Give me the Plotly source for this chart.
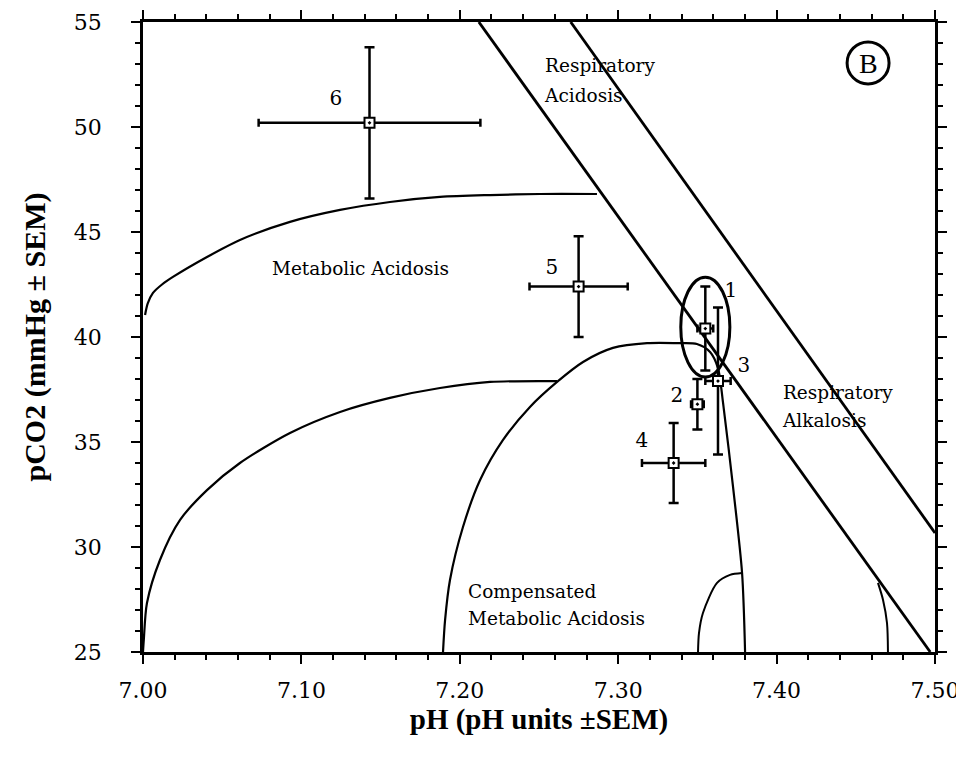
import plotly.graph_objects as go

# ---- data ----
point_labels = ["1", "2", "3", "4", "5", "6"]
ph = [7.355, 7.350, 7.363, 7.335, 7.275, 7.143]
ph_sem = [0.005, 0.004, 0.008, 0.020, 0.031, 0.070]
pco2 = [40.4, 36.8, 37.9, 34.0, 42.4, 50.2]
pco2_sem = [2.0, 1.2, 3.5, 1.9, 2.4, 3.6]
label_x = [7.3712, 7.3371, 7.3794, 7.3150, 7.2582, 7.1218]
label_y = [42.14, 37.14, 38.57, 35.0, 43.24, 51.29]

# boundary lines
line_a_x = [7.212, 7.497]
line_a_y = [55.0, 25.0]
line_b_x = [7.270, 7.500]
line_b_y = [55.0, 30.67]

# upper metabolic acidosis curve
curve1_x = [7.0013, 7.0030, 7.0063, 7.0120, 7.0189, 7.0404, 7.0612, 7.0928, 7.1244, 7.1559, 7.1875, 7.2191, 7.2506, 7.2866]
curve1_y = [41.05, 41.60, 42.10, 42.50, 42.86, 43.81, 44.62, 45.48, 46.05, 46.43, 46.67, 46.76, 46.81, 46.81]
# lower metabolic acidosis curve
curve2_x = [7.000, 7.0005, 7.0025, 7.0107, 7.0234, 7.0404, 7.0612, 7.0928, 7.1244, 7.1559, 7.1875, 7.2191, 7.2614]
curve2_y = [25.0, 25.57, 27.33, 29.38, 31.29, 32.71, 34.0, 35.43, 36.43, 37.10, 37.57, 37.86, 37.90]
# compensated metabolic acidosis boundary
curve3_x = [7.1894, 7.1907, 7.1938, 7.2020, 7.2128, 7.2273, 7.2443, 7.2614, 7.2778, 7.2967, 7.3182, 7.3390, 7.3497, 7.3580, 7.3630, 7.3662, 7.3725, 7.3782, 7.3801]
curve3_y = [25.0, 26.52, 28.43, 30.95, 33.19, 35.10, 36.67, 37.86, 38.81, 39.48, 39.71, 39.71, 39.67, 39.29, 38.52, 36.86, 32.86, 28.76, 25.0]
# small inner arc
curve4_x = [7.3504, 7.3510, 7.3535, 7.3624, 7.3706, 7.3782]
curve4_y = [25.0, 25.9, 26.86, 28.29, 28.67, 28.76]
# small right arc
curve5_x = [7.4640, 7.4672, 7.4697, 7.4703]
curve5_y = [28.29, 27.48, 26.38, 25.0]

# ellipse around point 1
ellipse_x = [7.3395, 7.3705]
ellipse_y = [38.1, 42.85]

region_text = ["Respiratory", "Acidosis", "Metabolic Acidosis", "Respiratory", "Alkalosis",
               "Compensated", "Metabolic Acidosis"]
region_x = [7.2538, 7.2538, 7.0814, 7.4040, 7.4040, 7.2052, 7.2052]
region_y = [52.86, 51.43, 43.19, 37.29, 35.95, 27.81, 26.52]

x_ticks = [7.00, 7.10, 7.20, 7.30, 7.40, 7.50]
x_tick_text = ["7.00", "7.10", "7.20", "7.30", "7.40", "7.50"]
y_ticks = [25, 30, 35, 40, 45, 50, 55]

serif = "Liberation Serif, Times New Roman, serif"
wide_serif = "DejaVu Serif, serif"

fig = go.Figure()

for cx, cy, w in [(line_a_x, line_a_y, 2.8), (line_b_x, line_b_y, 2.8),
                  (curve1_x, curve1_y, 2.2), (curve2_x, curve2_y, 2.2),
                  (curve3_x, curve3_y, 2.2), (curve4_x, curve4_y, 2.0),
                  (curve5_x, curve5_y, 2.0)]:
    fig.add_trace(go.Scatter(x=cx, y=cy, mode="lines",
                             line=dict(color="black", width=w, shape="spline", smoothing=0.8),
                             hoverinfo="skip", showlegend=False))

fig.add_trace(go.Scatter(
    x=ph, y=pco2, mode="markers",
    error_x=dict(type="data", array=ph_sem, color="black", thickness=2.5, width=4),
    error_y=dict(type="data", array=pco2_sem, color="black", thickness=2.5, width=5),
    marker=dict(symbol="square-dot", size=10, color="white",
                line=dict(color="black", width=2)),
    showlegend=False))

fig.add_trace(go.Scatter(
    x=label_x, y=label_y, mode="text", text=point_labels,
    textfont=dict(family=wide_serif, size=20, color="black"),
    hoverinfo="skip", showlegend=False))

fig.add_trace(go.Scatter(
    x=region_x, y=region_y, mode="text", text=region_text, textposition="middle right",
    textfont=dict(family=wide_serif, size=18.5, color="black"),
    hoverinfo="skip", showlegend=False))

fig.add_shape(type="circle", xref="x", yref="y",
              x0=ellipse_x[0], x1=ellipse_x[1], y0=ellipse_y[0], y1=ellipse_y[1],
              line=dict(color="black", width=3))

# B label in circle
fig.add_shape(type="circle", xref="x", yref="y",
              x0=7.4445, x1=7.4710, y0=52.05, y1=54.05,
              line=dict(color="black", width=3))
fig.add_annotation(x=7.4578, y=53.03, text="B", showarrow=False,
                   font=dict(family=serif, size=28, color="black"))

axis_common = dict(
    showline=True, linecolor="black", linewidth=2.5, mirror="allticks",
    ticks="outside", ticklen=9, tickwidth=2, tickcolor="black",
    showgrid=False, zeroline=False, automargin=False,
    tickfont=dict(family=wide_serif, size=22, color="black"),
)

fig.update_xaxes(range=[7.0, 7.5], tickvals=x_ticks, ticktext=x_tick_text,
                 minor=dict(dtick=0.02, ticks="outside", ticklen=5, tickwidth=2, tickcolor="black"),
                 ticklabelstandoff=8, ticklabeloverflow="allow",
                 title=dict(text="<b>pH (pH units ±SEM)</b>", standoff=0,
                            font=dict(family=serif, size=29, color="black")),
                 **axis_common)
fig.update_yaxes(range=[25, 55], tickvals=y_ticks,
                 minor=dict(dtick=1, ticks="outside", ticklen=5, tickwidth=2, tickcolor="black"),
                 ticklabelstandoff=25, ticklabeloverflow="allow",
                 title=dict(text="<b>pCO2 (mmHg ± SEM)</b>", standoff=20,
                            font=dict(family=serif, size=30, color="black")),
                 **axis_common)

fig.update_layout(
    width=956, height=742,
    margin=dict(l=135, r=29, t=14, b=98),
    plot_bgcolor="white", paper_bgcolor="white",
    showlegend=False,
)

fig.write_html("out.html")
